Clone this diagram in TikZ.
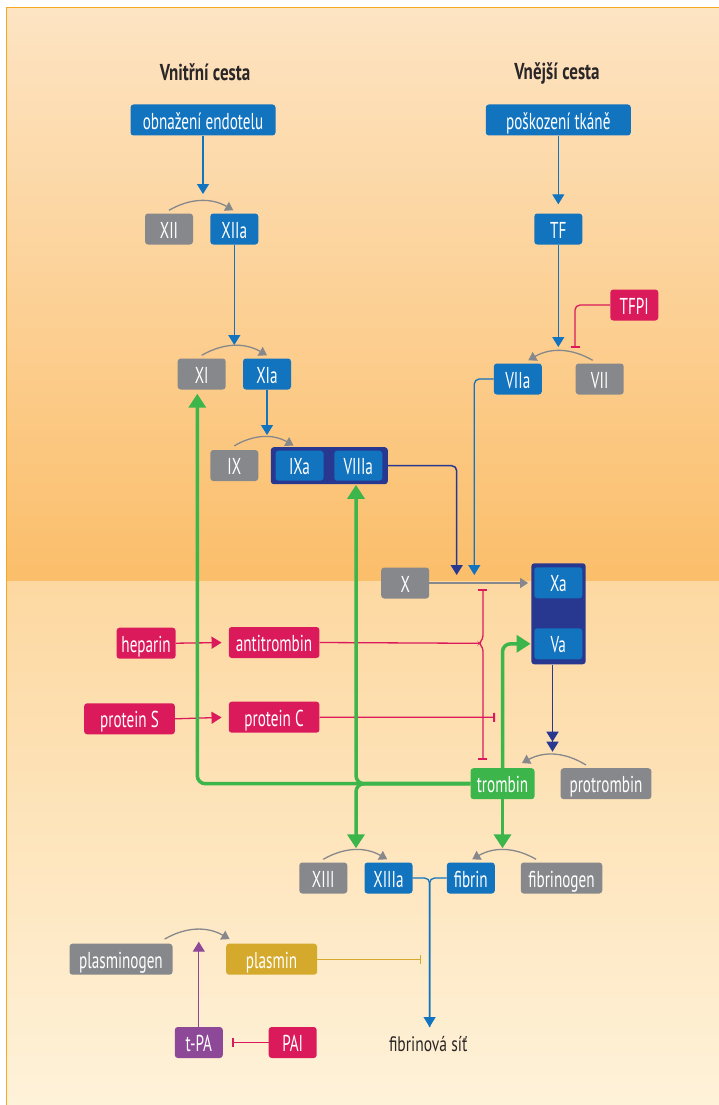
\documentclass[tikz,border=0pt]{standalone}
\usepackage{fontspec}
\setmainfont{PT Sans}[FakeStretch=0.66]
\newfontfamily\widefont{PT Sans}[FakeStretch=0.74]
\usepackage{xcolor}
\usepackage{tikz}
\usetikzlibrary{arrows.meta, positioning, calc}

\definecolor{cblue}{RGB}{18,115,190}
\definecolor{cnavy}{RGB}{40,56,145}
\definecolor{cgray}{RGB}{135,136,140}
\definecolor{cred}{RGB}{218,26,91}
\definecolor{cgreen}{RGB}{60,181,74}
\definecolor{cviolet}{RGB}{142,72,152}
\definecolor{cmustard}{RGB}{213,170,44}
\definecolor{ctext}{RGB}{42,38,39}
\definecolor{cborder}{RGB}{247,168,35}
\definecolor{bgA}{RGB}{253,228,195}
\definecolor{bgB}{RGB}{251,190,106}
\definecolor{bgC}{RGB}{253,216,161}
\definecolor{bgD}{RGB}{254,242,217}

\begin{document}
\begin{tikzpicture}[x=1pt, y=-1pt, font=\fontsize{23}{26}\selectfont]
\tikzstyle{cbox} = [rounded corners=3pt, minimum width=48pt, minimum height=31pt, inner sep=0pt, text=white, text height=18pt, text depth=0pt]
\tikzstyle{act} = [cbox, fill=cblue]
\tikzstyle{pro} = [cbox, fill=cgray]
\tikzstyle{inh} = [cbox, fill=cred]
\tikzstyle{thrbox} = [cbox, fill=cgreen]
\tikzstyle{plmbox} = [cbox, fill=cmustard]
\tikzstyle{tpabox} = [cbox, fill=cviolet]
\tikzstyle{grp} = [rounded corners=3pt, fill=cnavy, inner sep=0pt]
\tikzstyle{ttl} = [font=\widefont\fontsize{23}{26}\selectfont\bfseries, text=ctext]
\tikzstyle{flow} = [-{Triangle[width=12pt,length=10pt]}, line width=1.3pt, draw=cblue]
\tikzstyle{nflow} = [-{Triangle[width=12pt,length=10pt]}, line width=1.5pt, draw=cnavy]
\tikzstyle{conv} = [-{Triangle[width=10pt,length=8pt]}, line width=1.3pt, draw=cgray]
\tikzstyle{rflow} = [-{Triangle[width=12pt,length=10pt]}, line width=1.3pt, draw=cred]
\tikzstyle{inhib} = [-{Bar[width=9pt,line width=1.8pt]}, line width=1.3pt, draw=cred]
\tikzstyle{thr} = [-{Triangle[width=17pt,length=14pt]}, line width=3.5pt, draw=cgreen, rounded corners=8pt]

% background
\useasboundingbox (0,0) rectangle (719,1105);
\shade[top color=bgA, bottom color=bgB] (6.5,7.5) rectangle (719,581.5);
\shade[top color=bgC, bottom color=bgD] (6.5,581.5) rectangle (719,1105);
\draw[cborder, line width=1.3pt] (6.5,1105) -- (6.5,7.5) -- (719,7.5);

% nodes
\node[ttl]                       at (205,72)       (ttlin)   {Vnitřní cesta};
\node[ttl]                       at (557,73)       (ttlex)   {Vnější cesta};
\node[act, minimum width=145pt]  at (203,120)      (endo)    {obnažení endotelu};
\node[act, minimum width=145pt]  at (558.3,120)    (tkan)    {poškození tkáně};
\node[pro]                       at (169,229)      (XII)     {XII};
\node[act]                       at (234.3,229)    (XIIa)    {XIIa};
\node[act]                       at (558.3,229)    (TF)      {TF};
\node[inh]                       at (634.3,305)    (TFPI)    {TFPI};
\node[pro]                       at (201.7,374)    (XI)      {XI};
\node[act]                       at (267,374)      (XIa)     {XIa};
\node[act]                       at (517.8,379)    (VIIa)    {VIIa};
\node[pro]                       at (599.7,379)    (VII)     {VII};
\node[pro]                       at (234.3,465.5)  (IX)      {IX};
\node[grp, minimum width=117pt, minimum height=37pt] at (329.3,465.7) (IXgrp) {};
\node[act, minimum height=30pt]  at (299.5,465.7)  (IXa)     {IXa};
\node[act, minimum height=30pt]  at (358.3,465.7)  (VIIIa)   {VIIIa};
\node[pro]                       at (405.2,583)    (X)       {X};
\node[grp, minimum width=54.4pt, minimum height=101pt] at (558.5,613.8) (Xgrp) {};
\node[act]                       at (558.3,582.8)  (Xa)      {Xa};
\node[act]                       at (558.3,643.8)  (Va)      {Va};
\node[inh, minimum width=59pt]   at (146.1,643.2)  (hep)     {heparin};
\node[inh, minimum width=90.7pt] at (274.1,642.5)  (at3)     {antitrombin};
\node[inh, minimum width=90.7pt] at (129.5,718.8)  (protS)   {protein S};
\node[inh, minimum width=90.7pt] at (274.1,717.2)  (protC)   {protein C};
\node[thrbox, minimum width=64pt] at (502.5,783.7) (trombin) {trombin};
\node[pro, minimum width=90.7pt] at (606,783.7)    (prot)    {protrombin};
\node[pro]                       at (323.3,878)    (XIII)    {XIII};
\node[act]                       at (388.5,878)    (XIIIa)   {XIIIa};
\node[act]                       at (470.8,878)    (fibrin)  {fibrin};
\node[pro, minimum width=81.5pt] at (561.5,878)    (fbg)     {fibrinogen};
\node[pro, minimum width=103pt]  at (121,959.2)    (plg)     {plasminogen};
\node[plmbox, minimum width=91pt] at (271.6,959.2) (plasmin) {plasmin};
\node[tpabox]                    at (198.8,1042.5) (tPA)     {t-PA};
\node[inh]                       at (292.7,1042.5) (PAI)     {PAI};
\node[text=ctext, font=\widefont\fontsize{21}{24}\selectfont] at (428.2,1044) (sit) {fibrinová síť};

% free ends
\coordinate (c12)  at (203,194);
\coordinate (c11)  at (234.3,345);
\coordinate (c9)   at (267,435);
\coordinate (c7)   at (558.3,347);
\coordinate (c7i)  at (575,347.7);
\coordinate (c10b) at (474.3,575);
\coordinate (c10a) at (456.7,575);
\coordinate (bt)   at (482.9,589);
\coordinate (bb)   at (482.9,760);
\coordinate (cCi)  at (495,717.3);
\coordinate (c13)  at (356,848.3);
\coordinate (cfib) at (502.5,848.3);
\coordinate (cpt)  at (552.5,751.7);
\coordinate (csit) at (429.6,1027);
\coordinate (cpl)  at (421.4,959.2);
\coordinate (ctp)  at (198.8,941.7);
\coordinate (cpai) at (232.1,1042.5);

% activation
\draw[flow] (endo.south) -- (c12);
\draw[flow, shorten >=9pt] (tkan.south) -- (TF.north);
\draw[flow] (XIIa.south) -- (c11);
\draw[flow] (XIa.south) -- (c9);
\draw[flow] (TF.south) -- (c7);
\draw[inhib, rounded corners=5pt] (TFPI.west) -| (c7i);
\draw[flow, rounded corners=5pt] (VIIa.west) -| (c10b);
\draw[nflow, rounded corners=5pt] (IXgrp.east) -| (c10a);
\draw[conv, shorten >=3pt] (X.east) -- (X.east -| Xgrp.west);
\draw[nflow, -{Triangle[width=12pt,length=10pt] Triangle[width=12pt,length=10pt]}] ([xshift=-6pt]Xgrp.south) -- (cpt);

% conversions
\draw[conv] ([yshift=3pt]XII.north) to[bend left=30] ([xshift=-1pt,yshift=3pt]XIIa.north);
\draw[conv] ([yshift=3pt]XI.north) to[bend left=30] ([yshift=3pt]XIa.north);
\draw[conv] ([yshift=4pt]IX.north) to[bend left=30] ([xshift=-6pt,yshift=5pt]IXa.north);
\draw[conv] ([xshift=-7pt,yshift=3pt]VII.north) to[bend right=30] ([xshift=10.5pt,yshift=3pt]VIIa.north);
\draw[conv] ([xshift=-20pt,yshift=3pt]prot.north) to[bend right=30] ([xshift=19.5pt,yshift=5pt]trombin.north);
\draw[conv] ([yshift=3pt]XIII.north) to[bend left=30] ([xshift=-1.3pt,yshift=3pt]XIIIa.north);
\draw[conv] ([xshift=-25.4pt,yshift=3pt]fbg.north) to[bend right=30] ([xshift=1.4pt,yshift=3pt]fibrin.north);
\draw[conv] ([xshift=43.6pt,yshift=4.4pt]plg.north) to[bend left=30] ([xshift=-42pt,yshift=4.4pt]plasmin.north);

% inhibitors
\draw[rflow, shorten >=7pt] (hep.east) -- (at3.west);
\draw[rflow, shorten >=7pt] (protS.east) -- (protC.west);
\draw[inhib, {Bar[width=9pt,line width=1.8pt]}-{Bar[width=9pt,line width=1.8pt]}, rounded corners=3pt]
  (bt) -- (482.9,639) -- (478.9,643.3) -- (482.9,647.6) -- (bb);
\draw[cred, line width=1.3pt] (at3.east) -- (479,643.3);
\draw[inhib] (protC.east) -- (cCi);
\draw[inhib] (PAI.west) -- (cpai);
\draw[inhib, draw=cmustard] (plasmin.east) -- (cpl);
\draw[-{Triangle[width=12pt,length=10pt]}, line width=1.3pt, draw=cviolet] (tPA.north) -- (ctp);

% trombin
\draw[thr, shorten >=4pt] (trombin.west) -| ([xshift=-4.4pt]XI.south);
\draw[thr, shorten >=4pt] (trombin.west) -| ([xshift=-2.3pt]VIIIa.south);
\draw[thr] (trombin.west) -| (c13);
\draw[thr, shorten >=3.5pt] (trombin.north) |- (Va.west);
\draw[thr] (trombin.south) -- (cfib);

% fibrin net
\draw[flow, rounded corners=5pt] (XIIIa.east) -| (csit);
\draw[cblue, line width=1.3pt, rounded corners=5pt] (fibrin.west) -| (csit);
\end{tikzpicture}
\end{document}
